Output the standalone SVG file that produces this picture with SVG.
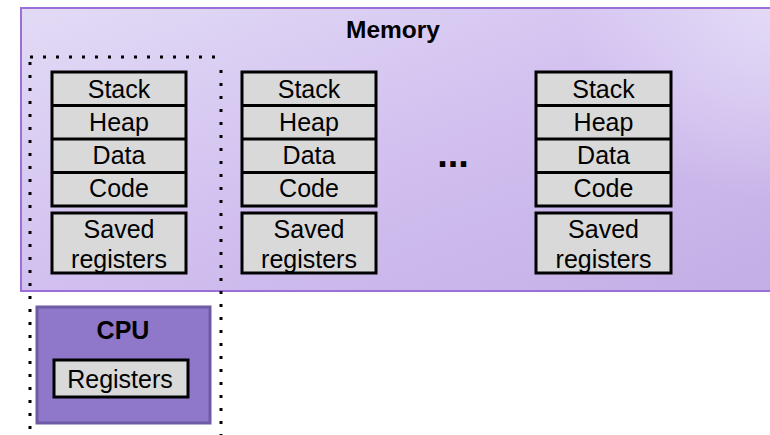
<svg xmlns="http://www.w3.org/2000/svg" width="770" height="435" viewBox="0 0 770 435">
<defs>
<linearGradient id="memGrad" x1="0" y1="0" x2="1" y2="1">
<stop offset="0" stop-color="#E2DBF5"/>
<stop offset="0.5" stop-color="#D2C0F0"/>
<stop offset="1" stop-color="#C3AEE5"/>
</linearGradient>
<radialGradient id="memGlow" cx="770" cy="0" r="200" gradientUnits="userSpaceOnUse">
<stop offset="0" stop-color="#E6DEF7" stop-opacity="0.9"/>
<stop offset="1" stop-color="#E6DEF7" stop-opacity="0"/>
</radialGradient>
</defs>
<style>
.box{fill:#D9D9D9;stroke:#000;stroke-width:3}
.t{font-family:"Liberation Sans",Arial,sans-serif;font-size:25px;fill:#000;text-anchor:middle}
.b{font-weight:bold}
.dot{fill:none;stroke:#000;stroke-width:3;stroke-dasharray:3 10}
</style>
<g id="memory">
<rect x="21" y="8" width="760" height="283" fill="url(#memGrad)" stroke="#9B6FDB" stroke-width="2"/>
<rect x="22" y="9" width="758" height="281" fill="url(#memGlow)"/>
<text class="t b" x="393" y="38" style="font-size:24.5px">Memory</text>
</g>
<g id="process1">
<rect class="box" x="52" y="72" width="134" height="134"/>
<line x1="52" y1="105.5" x2="186" y2="105.5" stroke="#000" stroke-width="3"/>
<line x1="52" y1="139" x2="186" y2="139" stroke="#000" stroke-width="3"/>
<line x1="52" y1="172.5" x2="186" y2="172.5" stroke="#000" stroke-width="3"/>
<text class="t" x="119" y="98">Stack</text>
<text class="t" x="119" y="131">Heap</text>
<text class="t" x="119" y="164">Data</text>
<text class="t" x="119" y="197">Code</text>
<rect class="box" x="52" y="213" width="134" height="60"/>
<text class="t" x="119" y="238">Saved</text>
<text class="t" x="119" y="268">registers</text>
</g>
<g id="process2">
<rect class="box" x="242" y="72" width="134" height="134"/>
<line x1="242" y1="105.5" x2="376" y2="105.5" stroke="#000" stroke-width="3"/>
<line x1="242" y1="139" x2="376" y2="139" stroke="#000" stroke-width="3"/>
<line x1="242" y1="172.5" x2="376" y2="172.5" stroke="#000" stroke-width="3"/>
<text class="t" x="309" y="98">Stack</text>
<text class="t" x="309" y="131">Heap</text>
<text class="t" x="309" y="164">Data</text>
<text class="t" x="309" y="197">Code</text>
<rect class="box" x="242" y="213" width="134" height="60"/>
<text class="t" x="309" y="238">Saved</text>
<text class="t" x="309" y="268">registers</text>
</g>
<g id="ellipsis">
<text class="t b" x="453" y="167" style="font-size:38px">...</text>
</g>
<g id="process3">
<rect class="box" x="536" y="72" width="135" height="134"/>
<line x1="536" y1="105.5" x2="671" y2="105.5" stroke="#000" stroke-width="3"/>
<line x1="536" y1="139" x2="671" y2="139" stroke="#000" stroke-width="3"/>
<line x1="536" y1="172.5" x2="671" y2="172.5" stroke="#000" stroke-width="3"/>
<text class="t" x="603.5" y="98">Stack</text>
<text class="t" x="603.5" y="131">Heap</text>
<text class="t" x="603.5" y="164">Data</text>
<text class="t" x="603.5" y="197">Code</text>
<rect class="box" x="536" y="213" width="135" height="60"/>
<text class="t" x="603.5" y="238">Saved</text>
<text class="t" x="603.5" y="268">registers</text>
</g>
<g id="cpu">
<rect x="37" y="307" width="173" height="116" fill="#8F78CA" stroke="#6E5BA6" stroke-width="3"/>
<text class="t b" x="123" y="339">CPU</text>
<rect class="box" x="54" y="360" width="134" height="37"/>
<text class="t" x="120" y="388">Registers</text>
</g>
<g id="context">
<path class="dot" d="M30 57 H221 M30 62 V435 M221 70 V435"/>
</g>
</svg>
